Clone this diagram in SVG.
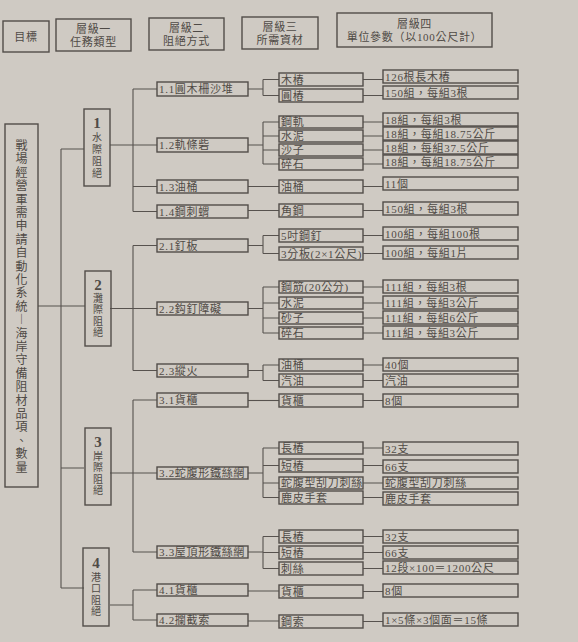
<svg xmlns="http://www.w3.org/2000/svg" width="578" height="642" viewBox="0 0 578 642">
<style>
.bx{fill:none;stroke:#524d49;stroke-width:1.4}
.ln{fill:none;stroke:#57524e;stroke-width:1.1}
.t{font-family:"Liberation Serif","Noto Sans CJK TC",serif;font-size:11px;fill:#4f4a46;letter-spacing:0.7px;dominant-baseline:central}
.c{text-anchor:middle}
.v{letter-spacing:0;font-size:10px}
.g{font-size:12px;letter-spacing:0}
.d{font-size:15px;font-weight:bold;letter-spacing:0}
</style>
<rect x="0" y="0" width="578" height="642" fill="#cfcac3"/>

<g id="header">
<g id="h-goal"><rect class="bx" x="3" y="21" width="46" height="31"/><text class="t c" x="26" y="37">目標</text></g>
<g id="h-l1"><rect class="bx" x="56" y="19" width="75" height="32"/><text class="t c" x="93.5" y="29">層級一</text><text class="t c" x="93.5" y="42">任務類型</text></g>
<g id="h-l2"><rect class="bx" x="149" y="18" width="75" height="32"/><text class="t c" x="186.5" y="28">層級二</text><text class="t c" x="186.5" y="41">阻絕方式</text></g>
<g id="h-l3"><rect class="bx" x="242" y="17" width="76" height="32"/><text class="t c" x="280" y="27">層級三</text><text class="t c" x="280" y="40">所需資材</text></g>
<g id="h-l4"><rect class="bx" x="337" y="13" width="155" height="34"/><text class="t c" x="414.5" y="24">層級四</text><text class="t c" x="414.5" y="37">單位參數（以100公尺計）</text></g>
</g>

<g id="connectors" class="ln">
<path d="M38 306H85 M61 149V588 M61 149H84 M61 468H84 M61 588H84"/>
<path d="M110 145H133 M133 89V211.5 M133 89H157 M133 145H157 M133 186.5H157 M133 211.5H157"/>
<path d="M110 308.5H133 M133 245.5V370.5 M133 245.5H157 M133 308.5H157 M133 370.5H157"/>
<path d="M110 473H133 M133 400V552 M133 400H157 M133 473H157 M133 552H157"/>
<path d="M110 605H133 M133 590V620 M133 590H157 M133 620H157"/>
<path d="M248 89H263 M263 79.5V95.5 M263 79.5H279 M263 95.5H279"/>
<path d="M248 145H263 M263 122V164 M263 122H279 M263 136H279 M263 150H279 M263 164H279"/>
<path d="M248 186.5H279 M248 210.5H279"/>
<path d="M248 245.5H263 M263 235.5V253.5 M263 235.5H279 M263 253.5H279"/>
<path d="M248 308.5H263 M263 287V333 M263 287H279 M263 303H279 M263 318H279 M263 333H279"/>
<path d="M248 370.5H263 M263 365V380.5 M263 365H279 M263 380.5H279"/>
<path d="M248 400.5H279"/>
<path d="M248 473H263 M263 448V497.5 M263 448H279 M263 465.5H279 M263 483H279 M263 497.5H279"/>
<path d="M248 552H263 M263 536.5V568.5 M263 536.5H279 M263 552.5H279 M263 568.5H279"/>
<path d="M248 591H279 M248 621H279"/>
<path d="M363 79.5H383 M363 95.5H383 M363 122H383 M363 136H383 M363 150H383 M363 164H383 M363 186.5H383 M363 210.5H383 M363 235.5H383 M363 253.5H383 M363 287H383 M363 303H383 M363 318H383 M363 333H383 M363 365H383 M363 380.5H383 M363 400.5H383 M363 448H383 M363 465.5H383 M363 483H383 M363 497.5H383 M363 536.5H383 M363 552.5H383 M363 568.5H383 M363 591.5H383 M363 621.5H383"/>
</g>

<g id="goal">
<rect class="bx" x="5" y="124" width="33" height="363"/>
<text class="t c g" x="21.5 21.5 21.5 21.5 21.5 21.5 21.5 21.5 21.5 21.5 21.5 21.5 21.5 21.5 21.5 21.5 21.5 21.5 21.5 21.5 21.5 21.5 21.5 21.5 21.5" y="146 159.4 172.8 186.2 199.6 213 226.4 239.8 253.2 266.6 280 293.4 306.8 320.2 333.6 347 360.4 373.8 387.2 400.6 414 427.4 440.8 454.2 467.6">戰場經營軍需申請自動化系統︱海岸守備阻材品項、數量</text>
</g>

<g id="n1"><rect class="bx" x="84" y="109" width="26" height="77"/><text class="t c d" x="97" y="123">1</text><text class="t c v" x="97 97 97 97" y="137 149 161 173">水際阻絕</text></g>
<g id="n2"><rect class="bx" x="85" y="271" width="26" height="75"/><text class="t c d" x="98" y="285">2</text><text class="t c v" x="98 98 98 98" y="298 309.5 321 332.5">灘際阻絕</text></g>
<g id="n3"><rect class="bx" x="85" y="428" width="26" height="77"/><text class="t c d" x="98" y="442">3</text><text class="t c v" x="98 98 98 98" y="456 467.5 479 490.5">岸際阻絕</text></g>
<g id="n4"><rect class="bx" x="83" y="548" width="26" height="78"/><text class="t c d" x="96" y="563">4</text><text class="t c v" x="96 96 96 96" y="577 588.5 600 611.5">港口阻絕</text></g>

<g id="n1-1"><rect class="bx" x="157" y="82" width="91" height="14"/><text class="t" x="159" y="89">1.1圓木柵沙堆</text></g>
<g id="n1-2"><rect class="bx" x="157" y="138" width="91" height="14"/><text class="t" x="159" y="145">1.2軌條砦</text></g>
<g id="n1-3"><rect class="bx" x="157" y="180" width="91" height="13"/><text class="t" x="159" y="186.5">1.3油桶</text></g>
<g id="n1-4"><rect class="bx" x="157" y="205" width="91" height="13"/><text class="t" x="159" y="211.5">1.4鋼刺蝟</text></g>
<g id="n2-1"><rect class="bx" x="157" y="239" width="91" height="13"/><text class="t" x="159" y="245.5">2.1釘板</text></g>
<g id="n2-2"><rect class="bx" x="157" y="302" width="91" height="13"/><text class="t" x="159" y="308.5">2.2鈎釘障礙</text></g>
<g id="n2-3"><rect class="bx" x="157" y="364" width="91" height="13"/><text class="t" x="159" y="370.5">2.3縱火</text></g>
<g id="n3-1"><rect class="bx" x="157" y="393" width="91" height="14"/><text class="t" x="159" y="400">3.1貨櫃</text></g>
<g id="n3-2"><rect class="bx" x="157" y="467" width="91" height="12"/><text class="t" x="159" y="473">3.2蛇腹形鐵絲網</text></g>
<g id="n3-3"><rect class="bx" x="157" y="546" width="91" height="12"/><text class="t" x="159" y="552">3.3屋頂形鐵絲網</text></g>
<g id="n4-1"><rect class="bx" x="157" y="584" width="91" height="12"/><text class="t" x="159" y="590">4.1貨櫃</text></g>
<g id="n4-2"><rect class="bx" x="157" y="614" width="91" height="12"/><text class="t" x="159" y="620">4.2攔截索</text></g>

<g id="m1"><rect class="bx" x="279" y="73" width="84" height="13"/><text class="t" x="281" y="79.5">木樁</text></g>
<g id="m2"><rect class="bx" x="279" y="89" width="84" height="13"/><text class="t" x="281" y="95.5">圓樁</text></g>
<g id="m3"><rect class="bx" x="279" y="116" width="84" height="12"/><text class="t" x="281" y="122">鋼軌</text></g>
<g id="m4"><rect class="bx" x="279" y="130" width="84" height="12"/><text class="t" x="281" y="136">水泥</text></g>
<g id="m5"><rect class="bx" x="279" y="144" width="84" height="12"/><text class="t" x="281" y="150">沙子</text></g>
<g id="m6"><rect class="bx" x="279" y="158" width="84" height="12"/><text class="t" x="281" y="164">碎石</text></g>
<g id="m7"><rect class="bx" x="279" y="180" width="84" height="13"/><text class="t" x="281" y="186.5">油桶</text></g>
<g id="m8"><rect class="bx" x="279" y="204" width="84" height="13"/><text class="t" x="281" y="210.5">角鋼</text></g>
<g id="m9"><rect class="bx" x="279" y="229" width="84" height="13"/><text class="t" x="281" y="235.5">5吋鋼釘</text></g>
<g id="m10"><rect class="bx" x="279" y="247" width="84" height="13"/><text class="t" x="281" y="253.5">3分板(2×1公尺)</text></g>
<g id="m11"><rect class="bx" x="279" y="281" width="84" height="12"/><text class="t" x="281" y="287">鋼筋(20公分)</text></g>
<g id="m12"><rect class="bx" x="279" y="297" width="84" height="12"/><text class="t" x="281" y="303">水泥</text></g>
<g id="m13"><rect class="bx" x="279" y="312" width="84" height="12"/><text class="t" x="281" y="318">砂子</text></g>
<g id="m14"><rect class="bx" x="279" y="327" width="84" height="12"/><text class="t" x="281" y="333">碎石</text></g>
<g id="m15"><rect class="bx" x="279" y="359" width="84" height="12"/><text class="t" x="281" y="365">油桶</text></g>
<g id="m16"><rect class="bx" x="279" y="374" width="84" height="13"/><text class="t" x="281" y="380.5">汽油</text></g>
<g id="m17"><rect class="bx" x="279" y="394" width="84" height="13"/><text class="t" x="281" y="400.5">貨櫃</text></g>
<g id="m18"><rect class="bx" x="279" y="442" width="84" height="12"/><text class="t" x="281" y="448">長樁</text></g>
<g id="m19"><rect class="bx" x="279" y="459" width="84" height="13"/><text class="t" x="281" y="465.5">短樁</text></g>
<g id="m20"><rect class="bx" x="279" y="477" width="84" height="12"/><text class="t" x="281" y="483">蛇腹型刮刀刺絲</text></g>
<g id="m21"><rect class="bx" x="279" y="491" width="84" height="13"/><text class="t" x="281" y="497.5">鹿皮手套</text></g>
<g id="m22"><rect class="bx" x="279" y="530" width="84" height="13"/><text class="t" x="281" y="536.5">長樁</text></g>
<g id="m23"><rect class="bx" x="279" y="546" width="84" height="13"/><text class="t" x="281" y="552.5">短樁</text></g>
<g id="m24"><rect class="bx" x="279" y="562" width="84" height="13"/><text class="t" x="281" y="568.5">刺絲</text></g>
<g id="m25"><rect class="bx" x="279" y="585" width="84" height="13"/><text class="t" x="281" y="591.5">貨櫃</text></g>
<g id="m26"><rect class="bx" x="279" y="615" width="84" height="13"/><text class="t" x="281" y="621.5">鋼索</text></g>

<g id="q1"><rect class="bx" x="383" y="70" width="135" height="13"/><text class="t" x="385" y="76.5">126根長木樁</text></g>
<g id="q2"><rect class="bx" x="383" y="86" width="135" height="13"/><text class="t" x="385" y="92.5">150組，每組3根</text></g>
<g id="q3"><rect class="bx" x="383" y="113" width="135" height="13"/><text class="t" x="385" y="119.5">18組，每組3根</text></g>
<g id="q4"><rect class="bx" x="383" y="127" width="135" height="13"/><text class="t" x="385" y="133.5">18組，每組18.75公斤</text></g>
<g id="q5"><rect class="bx" x="383" y="141" width="135" height="13"/><text class="t" x="385" y="147.5">18組，每組37.5公斤</text></g>
<g id="q6"><rect class="bx" x="383" y="155" width="135" height="13"/><text class="t" x="385" y="161.5">18組，每組18.75公斤</text></g>
<g id="q7"><rect class="bx" x="383" y="177" width="135" height="13"/><text class="t" x="385" y="183.5">11個</text></g>
<g id="q8"><rect class="bx" x="383" y="202" width="135" height="13"/><text class="t" x="385" y="208.5">150組，每組3根</text></g>
<g id="q9"><rect class="bx" x="383" y="227" width="135" height="13"/><text class="t" x="385" y="233.5">100組，每組100根</text></g>
<g id="q10"><rect class="bx" x="383" y="246" width="135" height="13"/><text class="t" x="385" y="252.5">100組，每組1片</text></g>
<g id="q11"><rect class="bx" x="383" y="280" width="135" height="13"/><text class="t" x="385" y="286.5">111組，每組3根</text></g>
<g id="q12"><rect class="bx" x="383" y="296" width="135" height="13"/><text class="t" x="385" y="302.5">111組，每組3公斤</text></g>
<g id="q13"><rect class="bx" x="383" y="311" width="135" height="13"/><text class="t" x="385" y="317.5">111組，每組6公斤</text></g>
<g id="q14"><rect class="bx" x="383" y="326" width="135" height="13"/><text class="t" x="385" y="332.5">111組，每組3公斤</text></g>
<g id="q15"><rect class="bx" x="383" y="358" width="135" height="13"/><text class="t" x="385" y="364.5">40個</text></g>
<g id="q16"><rect class="bx" x="383" y="374" width="135" height="13"/><text class="t" x="385" y="380.5">汽油</text></g>
<g id="q17"><rect class="bx" x="383" y="394" width="135" height="13"/><text class="t" x="385" y="400.5">8個</text></g>
<g id="q18"><rect class="bx" x="383" y="442" width="135" height="13"/><text class="t" x="385" y="448.5">32支</text></g>
<g id="q19"><rect class="bx" x="383" y="460" width="135" height="13"/><text class="t" x="385" y="466.5">66支</text></g>
<g id="q20"><rect class="bx" x="383" y="477" width="135" height="12"/><text class="t" x="385" y="483">蛇腹型刮刀刺絲</text></g>
<g id="q21"><rect class="bx" x="383" y="492" width="135" height="13"/><text class="t" x="385" y="498.5">鹿皮手套</text></g>
<g id="q22"><rect class="bx" x="383" y="530" width="135" height="13"/><text class="t" x="385" y="536.5">32支</text></g>
<g id="q23"><rect class="bx" x="383" y="546" width="135" height="13"/><text class="t" x="385" y="552.5">66支</text></g>
<g id="q24"><rect class="bx" x="383" y="561" width="135" height="13"/><text class="t" x="385" y="567.5">12段×100＝1200公尺</text></g>
<g id="q25"><rect class="bx" x="383" y="584" width="135" height="13"/><text class="t" x="385" y="590.5">8個</text></g>
<g id="q26"><rect class="bx" x="383" y="613" width="135" height="13"/><text class="t" x="385" y="619.5">1×5條×3個面＝15條</text></g>
</svg>
